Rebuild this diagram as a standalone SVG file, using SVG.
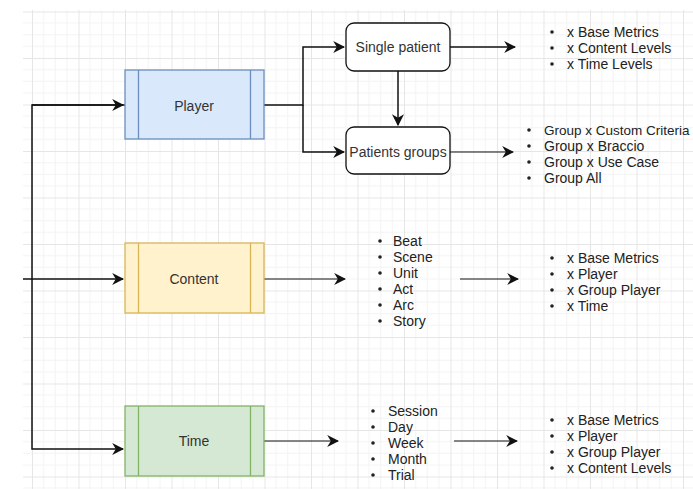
<svg xmlns="http://www.w3.org/2000/svg" width="693" height="489" viewBox="0 0 693 489">
<style>
text{font-family:"Liberation Sans",Arial,sans-serif;font-size:14px;fill:#222}
.lbl{text-anchor:middle;dominant-baseline:central;fill:#333}
.li{dominant-baseline:central}
.c{fill:none;stroke:#111;stroke-width:1.5}
.c1{fill:none;stroke:#111;stroke-width:1.1}
.b{fill:#222}
</style>
<defs>
<pattern id="grid" patternUnits="userSpaceOnUse" x="32" y="11.5" width="46.5" height="46.5">
<path d="M11.625 0V46.5M23.25 0V46.5M34.875 0V46.5M0 11.625H46.5M0 23.25H46.5M0 34.875H46.5" stroke="#f3f3f3" stroke-width="1" fill="none"/>
<path d="M0.5 0V46.5M0 0.5H46.5" stroke="#e6e6e6" stroke-width="1" fill="none"/>
</pattern>
<marker id="arrL" viewBox="0 0 10 10" refX="9" refY="5" markerWidth="12" markerHeight="12" markerUnits="userSpaceOnUse" orient="auto">
<path d="M0,0 L10,5 L0,10 L3,5 z" fill="#111"/>
</marker>
</defs>
<rect x="0" y="0" width="693" height="489" fill="#fff"/>
<rect x="23" y="10" width="670" height="479" fill="url(#grid)"/>

<g id="connectors">
<path class="c" d="M125 105H32V449H123" marker-end="url(#arrL)"/>
<path class="c" d="M32 105H123" marker-end="url(#arrL)"/>
<path class="c" d="M23 279H123" marker-end="url(#arrL)"/>
<path class="c" d="M264 105H303V47H344" marker-end="url(#arrL)"/>
<path class="c" d="M303 105V152H344" marker-end="url(#arrL)"/>
<path class="c" d="M398 71V125" marker-end="url(#arrL)"/>
<path class="c" d="M450 47H515" marker-end="url(#arrL)"/>
<path class="c1" d="M450 152H513" marker-end="url(#arrL)"/>
<path class="c1" d="M264 279H345" marker-end="url(#arrL)"/>
<path class="c1" d="M264 441H338" marker-end="url(#arrL)"/>
<path class="c1" d="M460 279H518" marker-end="url(#arrL)"/>
<path class="c1" d="M454 441H517" marker-end="url(#arrL)"/>
</g>

<g id="player">
<rect x="125" y="70" width="139" height="69" fill="#dae8fc" stroke="#6c8ebf" stroke-width="1.3"/>
<path d="M138.5 70V139M250.5 70V139" stroke="#6c8ebf" stroke-width="1.3"/>
<text class="lbl" x="194" y="106">Player</text>
</g>
<g id="content">
<rect x="125" y="243" width="139" height="70" fill="#fff2cc" stroke="#d6b656" stroke-width="1.3"/>
<path d="M138.5 243V313M250.5 243V313" stroke="#d6b656" stroke-width="1.3"/>
<text class="lbl" x="194" y="279">Content</text>
</g>
<g id="time">
<rect x="125" y="406" width="139" height="70" fill="#d5e8d4" stroke="#82b366" stroke-width="1.3"/>
<path d="M138.5 406V476M250.5 406V476" stroke="#82b366" stroke-width="1.3"/>
<text class="lbl" x="194" y="441">Time</text>
</g>
<g id="single-patient">
<rect x="346" y="23" width="104" height="48" rx="8" fill="#fff" stroke="#111" stroke-width="1.3"/>
<text class="lbl" x="398" y="47">Single patient</text>
</g>
<g id="patients-groups">
<rect x="346" y="127" width="104" height="47" rx="8" fill="#fff" stroke="#111" stroke-width="1.3"/>
<text class="lbl" x="398" y="152">Patients groups</text>
</g>

<g id="list-single">
<circle class="b" cx="552" cy="32" r="1.8"/><text class="li" x="567" y="32">x Base Metrics</text>
<circle class="b" cx="552" cy="48" r="1.8"/><text class="li" x="567" y="48">x Content Levels</text>
<circle class="b" cx="552" cy="64" r="1.8"/><text class="li" x="567" y="64">x Time Levels</text>
</g>
<g id="list-groups">
<circle class="b" cx="529" cy="130" r="1.8"/><text class="li" x="544" y="130" style="font-size:13.5px">Group x Custom Criteria</text>
<circle class="b" cx="529" cy="146" r="1.8"/><text class="li" x="544" y="146">Group x Braccio</text>
<circle class="b" cx="529" cy="162" r="1.8"/><text class="li" x="544" y="162">Group x Use Case</text>
<circle class="b" cx="529" cy="178" r="1.8"/><text class="li" x="544" y="178">Group All</text>
</g>
<g id="list-content-levels">
<circle class="b" cx="380" cy="241" r="1.8"/><text class="li" x="393" y="241">Beat</text>
<circle class="b" cx="380" cy="257" r="1.8"/><text class="li" x="393" y="257">Scene</text>
<circle class="b" cx="380" cy="273" r="1.8"/><text class="li" x="393" y="273">Unit</text>
<circle class="b" cx="380" cy="289" r="1.8"/><text class="li" x="393" y="289">Act</text>
<circle class="b" cx="380" cy="305" r="1.8"/><text class="li" x="393" y="305">Arc</text>
<circle class="b" cx="380" cy="321" r="1.8"/><text class="li" x="393" y="321">Story</text>
</g>
<g id="list-content-metrics">
<circle class="b" cx="552" cy="258" r="1.8"/><text class="li" x="567" y="258">x Base Metrics</text>
<circle class="b" cx="552" cy="274" r="1.8"/><text class="li" x="567" y="274">x Player</text>
<circle class="b" cx="552" cy="290" r="1.8"/><text class="li" x="567" y="290">x Group Player</text>
<circle class="b" cx="552" cy="306" r="1.8"/><text class="li" x="567" y="306">x Time</text>
</g>
<g id="list-time-levels">
<circle class="b" cx="373" cy="411" r="1.8"/><text class="li" x="388" y="411">Session</text>
<circle class="b" cx="373" cy="427" r="1.8"/><text class="li" x="388" y="427">Day</text>
<circle class="b" cx="373" cy="443" r="1.8"/><text class="li" x="388" y="443">Week</text>
<circle class="b" cx="373" cy="459" r="1.8"/><text class="li" x="388" y="459">Month</text>
<circle class="b" cx="373" cy="475" r="1.8"/><text class="li" x="388" y="475">Trial</text>
</g>
<g id="list-time-metrics">
<circle class="b" cx="552" cy="420" r="1.8"/><text class="li" x="567" y="420">x Base Metrics</text>
<circle class="b" cx="552" cy="436" r="1.8"/><text class="li" x="567" y="436">x Player</text>
<circle class="b" cx="552" cy="452" r="1.8"/><text class="li" x="567" y="452">x Group Player</text>
<circle class="b" cx="552" cy="468" r="1.8"/><text class="li" x="567" y="468">x Content Levels</text>
</g>
</svg>
